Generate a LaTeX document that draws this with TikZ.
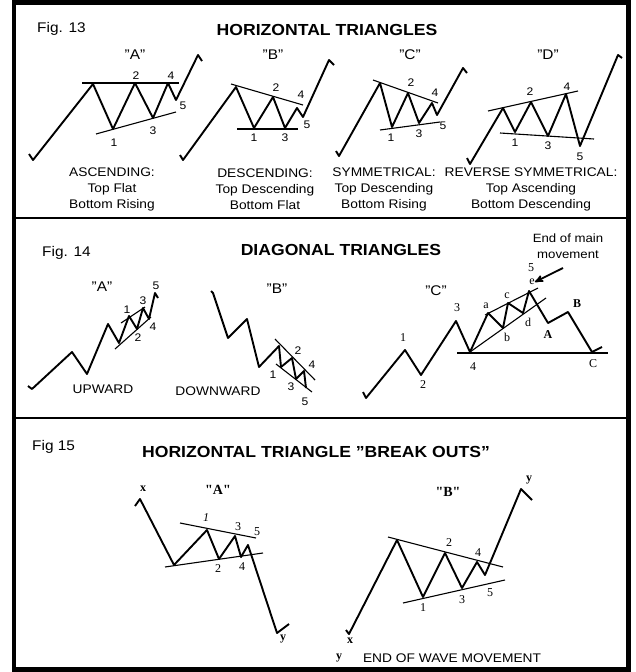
\documentclass[tikz,border=0pt]{standalone}
\usepackage{fontspec}
\setsansfont{Liberation Sans}[FakeStretch=1.1]
\setmainfont{Liberation Serif}
\usetikzlibrary{arrows,positioning}

\begin{document}
\begin{tikzpicture}
  [x=1pt,y=-1pt,>=stealth',
  wave/.style={line width=1.9pt,line join=round},
  trend/.style={line width=1.1pt},
  num/.style={font=\sffamily\fontsize{11}{12}\selectfont,inner sep=0pt},
  snum/.style={font=\rmfamily\fontsize{12}{13}\selectfont,inner sep=0pt},
  bnum/.style={font=\rmfamily\bfseries\fontsize{12}{13}\selectfont,inner sep=0pt},
  fig label/.style={font=\sffamily\fontsize{14}{16}\selectfont,anchor=west,inner sep=0pt},
  heading/.style={font=\sffamily\bfseries\fontsize{16}{18}\selectfont,inner sep=0pt},
  caption/.style={font=\sffamily\fontsize{12.5}{16}\selectfont,align=center,inner sep=0pt},
  quoted/.style={font=\sffamily\fontsize{14}{16}\selectfont,inner sep=0pt},
  squoted/.style={font=\rmfamily\bfseries\fontsize{14}{16}\selectfont,inner sep=0pt}]
  \useasboundingbox (0,0) rectangle (635,672);
  % frame and panel rules
  \draw[line width=4.5pt] (14,2.5) rectangle (628.5,669.5);
  \draw[line width=1.5pt] (14,218) -- (628,218);
  \draw[line width=1.5pt] (14,418) -- (628,418);

  % Fig. 13
  \node[fig label] (fig13) at (37,29) {Fig. 13};
  \node[heading] (head13) at (327,30) {HORIZONTAL TRIANGLES};
  % "A"
  \node[quoted] (q13a) at (135,55) {''A''};
  \draw[wave] (29,154) -- (33,160) -- (93,84) -- (113,129) -- (135,83) -- (153,118)
    -- (168,83) -- (176,100) -- (198,55) -- (202,61);
  \draw[trend] (82,83) -- (179,83);
  \draw[trend] (96,134) -- (176,112);
  \node[num] (a1) at (114,143) {1};
  \node[num] (a2) at (136,76) {2};
  \node[num] (a3) at (153,131) {3};
  \node[num] (a4) at (171,76) {4};
  \node[num] (a5) at (183,106) {5};
  \node[caption] (capa) at (112,189) {ASCENDING:\\Top Flat\\Bottom Rising};
  % "B"
  \node[quoted] (q13b) at (273,55) {''B''};
  \draw[wave] (180,155) -- (183,160) -- (236,87) -- (254,128) -- (273,97) -- (285,128)
    -- (297,108) -- (303,117) -- (329,60) -- (334,65);
  \draw[trend] (231,84) -- (303,105);
  \draw[trend] (237,129) -- (298,129);
  \node[num] (b1) at (254,138) {1};
  \node[num] (b2) at (276,88) {2};
  \node[num] (b3) at (285,138) {3};
  \node[num] (b4) at (301,95) {4};
  \node[num] (b5) at (307,125) {5};
  \node[caption] (capb) at (265,189) {DESCENDING:\\Top Descending\\Bottom Flat};
  % "C"
  \node[quoted] (q13c) at (410,55) {''C''};
  \draw[wave] (336,151) -- (339,156) -- (380,83) -- (392,127) -- (408,93) -- (419,123)
    -- (432,103) -- (437,115) -- (463,68) -- (467,73);
  \draw[trend] (373,80) -- (438,103);
  \draw[trend] (380,130) -- (440,122);
  \node[num] (c1) at (391,138) {1};
  \node[num] (c2) at (411,83) {2};
  \node[num] (c3) at (419,134) {3};
  \node[num] (c4) at (435,93) {4};
  \node[num] (c5) at (443,126) {5};
  \node[caption] (capc) at (384,189) {SYMMETRICAL:\\Top Descending\\Bottom Rising};
  % "D"
  \node[quoted] (q13d) at (548,55) {''D''};
  \draw[wave] (467,158) -- (470,164) -- (503,108) -- (515,132) -- (531,102) -- (548,136)
    -- (566,94) -- (580,146) -- (618,55) -- (622,58);
  \draw[trend] (488,111) -- (578,91);
  \draw[trend] (500,133) -- (594,139);
  \node[num] (d1) at (515,143) {1};
  \node[num] (d2) at (530,92) {2};
  \node[num] (d3) at (548,146) {3};
  \node[num] (d4) at (567,87) {4};
  \node[num] (d5) at (580,157) {5};
  \node[caption] (capd) at (531,189) {REVERSE SYMMETRICAL:\\Top Ascending\\Bottom Descending};

  % Fig. 14
  \node[fig label] (fig14) at (42,253) {Fig. 14};
  \node[heading] (head14) at (341,250) {DIAGONAL TRIANGLES};
  % "A" upward
  \node[quoted] (q14a) at (102,287) {''A''};
  \draw[wave] (28,386) -- (32,389) -- (72,352) -- (87,374) -- (108,324) -- (119,343)
    -- (129,316) -- (137,329) -- (143,308) -- (149,319) -- (155,293) -- (158,298);
  \draw[trend] (121,323) -- (145,307);
  \draw[trend] (115,349) -- (151,317);
  \node[num] (ua1) at (127,310) {1};
  \node[num] (ua2) at (138,338) {2};
  \node[num] (ua3) at (143,301) {3};
  \node[num] (ua4) at (153,327) {4};
  \node[num] (ua5) at (156,286) {5};
  \node[caption] (capup) at (103,389) {UPWARD};
  % "B" downward
  \node[quoted] (q14b) at (277,289) {''B''};
  \draw[wave] (211,291) -- (213,293) -- (228,338) -- (247,319) -- (259,367) -- (279,346)
    -- (281,367) -- (292,358) -- (296,379) -- (304,371) -- (306,388);
  \draw[trend] (275,339) -- (315,380);
  \draw[trend] (276,364) -- (312,392);
  \node[num] (dn1) at (273,375) {1};
  \node[num] (dn2) at (298,351) {2};
  \node[num] (dn3) at (291,387) {3};
  \node[num] (dn4) at (312,365) {4};
  \node[num] (dn5) at (305,402) {5};
  \node[caption] (capdown) at (218,391) {DOWNWARD};
  % "C" end of main movement
  \node[quoted] (q14c) at (436,291) {''C''};
  \draw[wave] (363,392) -- (366,398) -- (405,350) -- (421,375) -- (456,321) -- (470,352)
    -- (488,313) -- (503,328) -- (508,303) -- (523,313) -- (529,291) -- (548,323)
    -- (568,312) -- (592,352) -- (602,347);
  \draw[trend] (457,353) -- (608,353);
  \draw[trend] (470,352) -- (546,298);
  \draw[trend] (485,315) -- (538,288);
  \node[snum] (m1) at (403,338) {1};
  \node[snum] (m2) at (423,385) {2};
  \node[snum] (m3) at (457,308) {3};
  \node[snum] (m4) at (473,367) {4};
  \node[snum] (m5) at (531,268) {5};
  \node[snum] (sa) at (486,306) {a};
  \node[snum] (sb) at (507,337) {b};
  \node[snum] (sc) at (507,296) {c};
  \node[snum] (sd) at (528,322) {d};
  \node[snum] (se) at (532,282) {e};
  \node[bnum] (cA) at (548,335) {A};
  \node[bnum] (cB) at (577,304) {B};
  \node[snum] (cC) at (593,364) {C};
  \node[caption,font=\sffamily\fontsize{12}{15.5}\selectfont] (endmain) at (568,246) {End of main\\movement};
  \coordinate (tail) at (563,268);
  \draw[->,line width=1.8pt] (tail) -- (se.east);

  % Fig 15
  \node[fig label] (fig15) at (32,447) {Fig 15};
  \node[heading] (head15) at (316,452) {HORIZONTAL TRIANGLE ''BREAK OUTS''};
  % "A"
  \node[squoted] (q15a) at (218,490) {\textquotedbl A\textquotedbl};
  \draw[wave] (135,506) -- (140,499) -- (174,565) -- (207,530) -- (219,559) -- (235,536)
    -- (241,557) -- (248,545) -- (277,633) -- (289,624);
  \draw[trend] (180,523) -- (256,538);
  \draw[trend] (165,567) -- (263,553);
  \node[bnum] (xa) at (143,489) {x};
  \node[snum,font=\rmfamily\itshape\fontsize{12}{13}\selectfont] (ba1) at (206,518) {1};
  \node[snum] (ba2) at (218,569) {2};
  \node[snum] (ba3) at (238,527) {3};
  \node[snum] (ba4) at (242,567) {4};
  \node[snum] (ba5) at (257,532) {5};
  \node[bnum] (ya) at (283,639) {y};
  % "B"
  \node[squoted] (q15b) at (448,492) {\textquotedbl B\textquotedbl};
  \draw[wave] (346,630) -- (349,634) -- (397,540) -- (423,597) -- (445,553) -- (462,588)
    -- (477,562) -- (485,575) -- (521,489) -- (532,500);
  \draw[trend] (388,537) -- (503,567);
  \draw[trend] (403,603) -- (505,580);
  \node[snum] (bb1) at (423,608) {1};
  \node[snum] (bb2) at (449,543) {2};
  \node[snum] (bb3) at (462,600) {3};
  \node[snum] (bb4) at (478,553) {4};
  \node[snum] (bb5) at (490,593) {5};
  \node[bnum] (yb) at (529,480) {y};
  \node[bnum] (xb) at (350,641) {x};
  \node[bnum] (yb2) at (339,658) {y};
  \node[caption] (capend) at (452,658) {END OF WAVE MOVEMENT};
\end{tikzpicture}
\end{document}
